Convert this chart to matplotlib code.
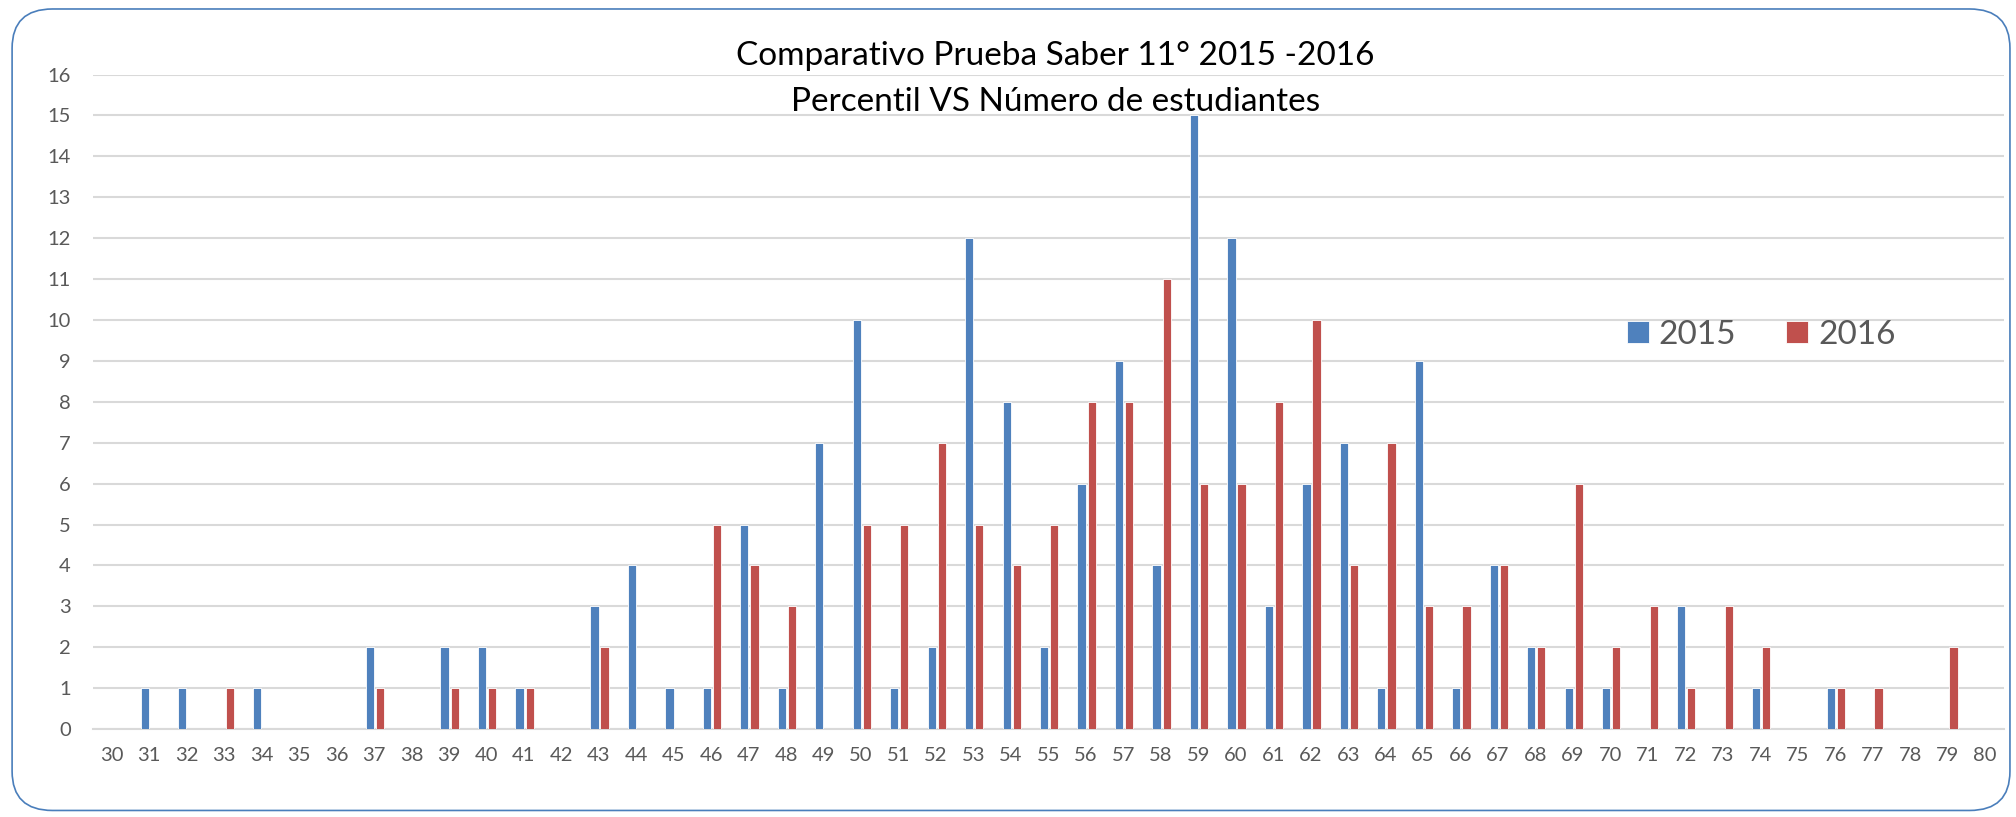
import matplotlib.pyplot as plt
import numpy as np
from matplotlib.patches import FancyBboxPatch

plt.rcParams["font.family"] = ["Lato", "DejaVu Sans"]

percentiles = list(range(30, 81))
counts_2015 = [0, 1, 1, 0, 1, 0, 0, 2, 0, 2, 2, 1, 0, 3, 4, 1, 1, 5, 1, 7,
               10, 1, 2, 12, 8, 2, 6, 9, 4, 15, 12, 3, 6, 7, 1, 9, 1, 4, 2, 1,
               1, 0, 3, 0, 1, 0, 1, 0, 0, 0, 0]
counts_2016 = [0, 0, 0, 1, 0, 0, 0, 1, 0, 1, 1, 1, 0, 2, 0, 0, 5, 4, 3, 0,
               5, 5, 7, 5, 4, 5, 8, 8, 11, 6, 6, 8, 10, 4, 7, 3, 3, 4, 2, 6,
               2, 3, 1, 3, 2, 0, 1, 1, 0, 2, 0]
series_labels = ["2015", "2016"]
title_lines = ["Comparativo Prueba Saber 11° 2015 -2016",
               "Percentil VS Número de estudiantes"]

BLUE = "#4F81BD"
RED = "#C0504D"
GRID = "#D9D9D9"
TEXT = "#595959"

fig = plt.figure(figsize=(20.16, 8.17), dpi=100)
ax = fig.add_axes([0.0461, 0.1077, 0.9479, 0.801])

x = np.arange(len(percentiles))
w = 0.22
ax.bar(x - 0.115, counts_2015, width=w, color=BLUE, edgecolor="white",
       linewidth=0.6, label=series_labels[0], zorder=3)
ax.bar(x + 0.155, counts_2016, width=w, color=RED, edgecolor="white",
       linewidth=0.6, label=series_labels[1], zorder=3)

ax.set_xlim(-0.5, len(percentiles) - 0.5)
ax.set_ylim(0, 16)
ax.set_yticks(range(0, 17))
ax.set_xticks(x)
ax.set_xticklabels([str(p) for p in percentiles])
ax.yaxis.grid(True, color=GRID, linewidth=1.5, zorder=0)
ax.set_axisbelow(True)
for side in ["top", "right", "left"]:
    ax.spines[side].set_visible(False)
ax.spines["bottom"].set_color(GRID)
ax.spines["bottom"].set_linewidth(1.5)
ax.tick_params(axis="both", length=0, labelsize=14.5, labelcolor=TEXT)
ax.tick_params(axis="y", pad=16)
ax.tick_params(axis="x", pad=13)

for i, line in enumerate(title_lines):
    fig.text(0.5235, 0.932 - i * 0.057, line, ha="center", va="center",
             fontsize=24, color="black")

leg = ax.legend(loc="center", bbox_to_anchor=(0.873, 0.602), ncol=2,
                frameon=False, fontsize=24, handlelength=0.65, handleheight=0.65,
                handletextpad=0.3, columnspacing=1.5)
for t in leg.get_texts():
    t.set_color(TEXT)

border = FancyBboxPatch((0.006, 0.008), 0.991, 0.981,
                        boxstyle="round,pad=0,rounding_size=0.02",
                        transform=fig.transFigure, facecolor="none",
                        edgecolor="#4A7EBB", linewidth=1.2, mutation_aspect=2.4)
fig.patches.append(border)

fig.savefig("out.png", dpi=100)
